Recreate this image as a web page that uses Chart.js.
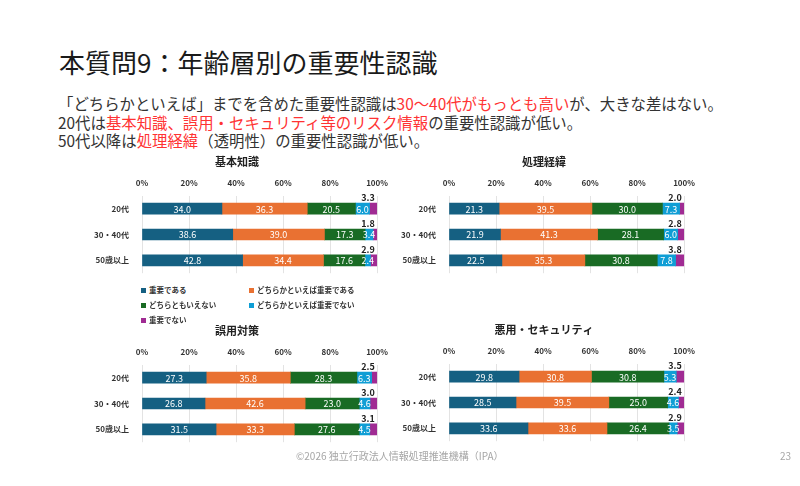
<!DOCTYPE html>
<html>
<head>
<meta charset="utf-8">
<script src="https://cdn.jsdelivr.net/npm/chart.js@4"></script>
<style>
  body { margin: 0; background: #fff; font-family: "Noto Sans CJK JP", sans-serif; }
  #slide { position: relative; width: 800px; height: 486px; overflow: hidden; background: #fff; }
  #title { position: absolute; left: 59px; top: 43px; font-size: 26px; color: #1a1a1a; white-space: nowrap; }
  #lead { position: absolute; left: 58px; top: 94px; font-size: 15.4px; line-height: 18.7px; color: #333; white-space: nowrap; }
  #lead .red { color: #ff3333; }
  canvas { position: absolute; }
  #legend { position: absolute; left: 141px; top: 285px; width: 260px; font-size: 7.5px; font-weight: bold; color: #333; }
  #legend .item { position: absolute; white-space: nowrap; line-height: 10px; }
  #legend .box { display: inline-block; width: 5px; height: 5px; margin-right: 3px; vertical-align: 0px; }
  #footer { position: absolute; left: 296px; top: 448px; font-size: 10px; color: #a6a6a6; white-space: nowrap; }
  #page { position: absolute; left: 780px; top: 448px; font-size: 10px; color: #a6a6a6; }
</style>
</head>
<body>
<div id="slide">
  <div id="title">本質問9：年齢層別の重要性認識</div>
  <div id="lead">
    「どちらかといえば」までを含めた重要性認識は<span class="red">30〜40代がもっとも高い</span>が、大きな差はない。<br>
    20代は<span class="red">基本知識、誤用・セキュリティ等のリスク情報</span>の重要性認識が低い。<br>
    50代以降は<span class="red">処理経緯</span>（透明性）の重要性認識が低い。
  </div>
  <canvas id="c1" width="306" height="134" style="left:90px;top:149px"></canvas>
  <canvas id="c2" width="306" height="134" style="left:397px;top:149px"></canvas>
  <canvas id="c3" width="306" height="134" style="left:90px;top:318px"></canvas>
  <canvas id="c4" width="306" height="134" style="left:397px;top:317px"></canvas>
  <div id="legend"></div>
  <div id="footer">©2026 独立行政法人情報処理推進機構（IPA）</div>
  <div id="page">23</div>
</div>
<script>
// age groups and answer choices
const ages = ['20代', '30・40代', '50歳以上'];
const answers = ['重要である', 'どちらかといえば重要である', 'どちらともいえない', 'どちらかといえば重要でない', '重要でない'];
const colors = ['#156082', '#e97132', '#196b24', '#0f9ed5', '#a02b93'];
const xTicks = [0, 20, 40, 60, 80, 100];

// each row = one answer, values per age group (%)
const kihonChishiki = [
    [34.0, 38.6, 42.8],
    [36.3, 39.0, 34.4],
    [20.5, 17.3, 17.6],
    [6.0, 3.4, 2.4],
    [3.3, 1.8, 2.9]
];
const shoriKeii = [
    [21.3, 21.9, 22.5],
    [39.5, 41.3, 35.3],
    [30.0, 28.1, 30.8],
    [7.3, 6.0, 7.8],
    [2.0, 2.8, 3.8]
];
const goyouTaisaku = [
    [27.3, 26.8, 31.5],
    [35.8, 42.6, 33.3],
    [28.3, 23.0, 27.6],
    [6.3, 4.6, 4.5],
    [2.5, 3.0, 3.1]
];
const akuyouSecurity = [
    [29.8, 28.5, 33.6],
    [30.8, 39.5, 33.6],
    [30.8, 25.0, 26.4],
    [5.3, 4.6, 3.5],
    [3.5, 2.4, 2.9]
];

// value labels: white inside the bars, last segment above the bar end
const valueLabels = {
    id: 'valueLabels',
    afterDatasetsDraw(chart) {
        const ctx = chart.ctx;
        ctx.save();
        ctx.textBaseline = 'middle';
        chart.data.datasets.forEach((ds, i) => {
            const meta = chart.getDatasetMeta(i);
            meta.data.forEach((bar, j) => {
                const v = ds.data[j].toFixed(1);
                if (i < ds.lastIndex) {
                    ctx.fillStyle = '#fff';
                    ctx.font = '9px "Noto Sans CJK JP"';
                    ctx.textAlign = 'center';
                    ctx.fillText(v, (bar.x + bar.base) / 2, bar.y + 0.5);
                } else {
                    ctx.fillStyle = '#222';
                    ctx.font = 'bold 9px "Noto Sans CJK JP"';
                    ctx.textAlign = 'center';
                    ctx.fillText(v, chart.chartArea.right - 9, bar.y - 11);
                }
            });
        });
        ctx.restore();
    }
};

function makeChart(id, title, values) {
    new Chart(document.getElementById(id), {
        type: 'bar',
        data: {
            labels: ages,
            datasets: answers.map((a, i) => ({
                label: a,
                data: values[i],
                backgroundColor: colors[i],
                barThickness: 11,
                borderWidth: 0,
                lastIndex: answers.length - 1
            }))
        },
        options: {
            indexAxis: 'y',
            responsive: false,
            animation: false,
            layout: { padding: { left: 0, right: 12, top: 0, bottom: 0 } },
            plugins: {
                legend: { display: false },
                tooltip: { enabled: false },
                title: {
                    display: true,
                    text: title,
                    color: '#222',
                    font: { family: '"Noto Sans CJK JP"', size: 11, weight: 'bold' },
                    padding: { top: 6, bottom: 2 }
                }
            },
            scales: {
                x: {
                    stacked: true,
                    position: 'top',
                    min: 0,
                    max: 100,
                    afterBuildTicks: s => { s.ticks = xTicks.map(v => ({ value: v })); },
                    ticks: {
                        callback: v => v + '%',
                        color: '#333',
                        font: { family: '"Noto Sans CJK JP"', size: 8, weight: 'bold' },
                        padding: 8,
                        maxRotation: 0
                    },
                    grid: { color: '#e3e3e3', drawTicks: false },
                    border: { display: false }
                },
                y: {
                    stacked: true,
                    afterFit: s => { s.width = 52; },
                    ticks: {
                        color: '#333',
                        font: { family: '"Noto Sans CJK JP"', size: 8, weight: 'bold' },
                        padding: 5
                    },
                    grid: { display: false },
                    border: { display: false }
                }
            }
        },
        plugins: [valueLabels]
    });
}

makeChart('c1', '基本知識', kihonChishiki);
makeChart('c2', '処理経緯', shoriKeii);
makeChart('c3', '誤用対策', goyouTaisaku);
makeChart('c4', '悪用・セキュリティ', akuyouSecurity);

// legend under the first chart
const legendPos = [[0, 0], [108, 0], [0, 15], [108, 15], [0, 30]];
const legend = document.getElementById('legend');
answers.forEach((a, i) => {
    const item = document.createElement('div');
    item.className = 'item';
    item.style.left = legendPos[i][0] + 'px';
    item.style.top = legendPos[i][1] + 'px';
    item.innerHTML = '<span class="box" style="background:' + colors[i] + '"></span>' + a;
    legend.appendChild(item);
});
</script>
</body>
</html>
